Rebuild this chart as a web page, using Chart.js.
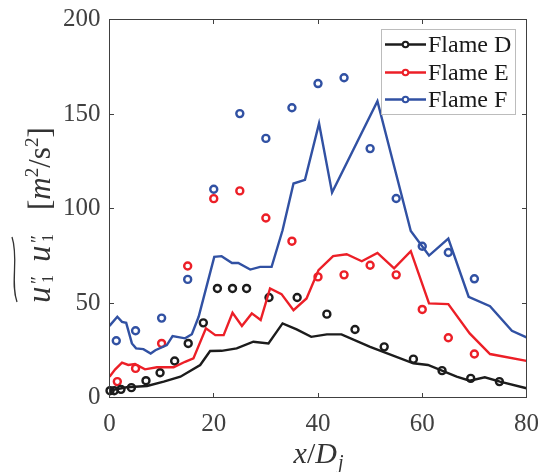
<!DOCTYPE html>
<html>
<head>
<meta charset="utf-8">
<title>u1u1 flames D E F</title>
<script src="https://cdn.jsdelivr.net/npm/chart.js@4.4.1/dist/chart.umd.min.js"></script>
<style>
  html, body { margin: 0; padding: 0; background: #fff; }
  #wrap { width: 538px; height: 472px; }
</style>
</head>
<body>
<div id="wrap"><canvas id="chart" width="538" height="472"></canvas></div>
<script>
// --- data ---
const xTicks = [0, 20, 40, 60, 80];
const yTicks = [0, 50, 100, 150, 200];
const seriesNames = ['Flame D', 'Flame E', 'Flame F'];
const seriesColors = ['#1c1c1c', '#ec1f27', '#3151a3'];

// simulation (lines)
const lineDx = [0, 3.3, 7.2, 10.4, 13.6, 17.4, 19.3, 21.5, 24.4, 27.6, 30.5, 33.2, 35.9, 38.7, 41.7, 44.5, 50, 58.3, 61.1, 66.6, 69.1, 72, 74.9, 80];
const lineDy = [3.6, 5.4, 6.1, 8.4, 11, 17.2, 24.6, 24.7, 26, 29.5, 28.6, 39.2, 36, 32.1, 33.4, 33.4, 26.8, 18.1, 17.2, 11, 8.9, 10.7, 8.4, 4.9];
const lineEx = [0, 1.1, 2.4, 3.6, 4.9, 6.8, 9.1, 12.3, 14.5, 16.1, 18.5, 20.3, 21.9, 23.6, 25.4, 27.3, 29, 30.8, 33, 35.3, 37.8, 40.1, 42.9, 45.5, 48.4, 51.4, 54.6, 57.8, 61.3, 65, 69.1, 73, 80];
const lineEy = [11, 14.9, 18.4, 17.2, 17.7, 14.9, 16, 16, 18.9, 20.7, 36.6, 33, 33, 44.8, 37.8, 44.5, 41, 57.7, 54.7, 46.2, 52.4, 67.4, 74.8, 75.8, 72.1, 76.5, 68.3, 77.4, 49.8, 49.4, 33.9, 23, 19.4];
const lineFx = [0, 1.5, 2.4, 3.2, 4.3, 5.1, 6.5, 7.9, 8.8, 11, 12.1, 14.5, 15.8, 17.1, 20.1, 21.5, 23.5, 24.7, 27, 28.9, 31.1, 33.2, 35.3, 37.5, 40.2, 42.7, 51.4, 57.8, 61.3, 65, 68.9, 73, 77.2, 80];
const lineFy = [37.9, 42.7, 40, 39.5, 28.6, 26, 25.6, 23.3, 25, 27.7, 32.5, 31.3, 33.5, 42.7, 74.4, 74.8, 71.2, 71.2, 67.7, 69.1, 69.1, 88.5, 113.2, 115.2, 145, 108.4, 156.8, 88.1, 75.1, 84.1, 53.3, 48.3, 35.3, 31.8];

// measurements (circles)
const expDx = [0.1, 0.9, 2.2, 4.2, 7, 9.7, 12.5, 15.1, 18, 20.7, 23.6, 26.3, 30.6, 36, 41.7, 47.1, 52.7, 58.3, 63.8, 69.3, 74.8];
const expDy = [3.6, 3.6, 4.3, 5.2, 8.9, 13.1, 19.3, 28.6, 39.5, 57.7, 57.7, 57.7, 52.9, 52.9, 44.1, 36, 26.8, 20.3, 14.2, 10.1, 8.4];
const expEx = [1.5, 5, 10, 15, 20, 25, 30, 35, 40, 45, 50, 55, 60, 65, 70];
const expEy = [8.4, 15.4, 28.6, 69.6, 105.2, 109.3, 95, 82.7, 63.8, 64.9, 70, 64.9, 46.6, 31.6, 23];
const expFx = [1.3, 5, 10, 15, 20, 25, 30, 35, 40, 45, 50, 55, 60, 65, 70];
const expFy = [30, 35.3, 42, 62.5, 110.2, 150.2, 137.1, 153.3, 166.1, 169.2, 131.7, 105.3, 80, 76.7, 62.8];

const lines = [[lineDx, lineDy], [lineEx, lineEy], [lineFx, lineFy]];
const points = [[expDx, expDy], [expEx, expEy], [expFx, expFy]];

const toXY = (xs, ys) => xs.map((v, i) => ({ x: v, y: ys[i] }));

const datasets = [];
lines.forEach(([xs, ys], i) => {
    datasets.push({
        label: seriesNames[i],
        data: toXY(xs, ys),
        showLine: true,
        borderColor: seriesColors[i],
        borderWidth: 2.4,
        pointRadius: 0,
        tension: 0,
    });
});
points.forEach(([xs, ys], i) => {
    datasets.push({
        label: seriesNames[i] + ' exp',
        data: toXY(xs, ys),
        showLine: false,
        borderColor: seriesColors[i],
        backgroundColor: 'rgba(0,0,0,0)',
        borderWidth: 2.4,
        pointRadius: 3.5,
        pointStyle: 'circle',
        clip: false,
    });
});

const SERIF = '"Liberation Serif", "DejaVu Serif", serif';
const AXIS_COLOR = '#404040';

// --- axes box, inward ticks, titles and legend ---
const decorations = {
    id: 'decorations',
    afterDraw(chart) {
        const { ctx, chartArea: a, scales: { x, y } } = chart;
        ctx.save();

        // box + ticks
        ctx.strokeStyle = AXIS_COLOR;
        ctx.lineWidth = 1;
        ctx.strokeRect(a.left, a.top, a.right - a.left, a.bottom - a.top);
        ctx.beginPath();
        xTicks.forEach(v => {
            const px = Math.round(x.getPixelForValue(v) - 0.5) + 0.5;
            ctx.moveTo(px, a.bottom); ctx.lineTo(px, a.bottom - 4.5);
            ctx.moveTo(px, a.top); ctx.lineTo(px, a.top + 4.5);
        });
        yTicks.forEach(v => {
            const py = Math.round(y.getPixelForValue(v) - 0.5) + 0.5;
            ctx.moveTo(a.left, py); ctx.lineTo(a.left + 4.5, py);
            ctx.moveTo(a.right, py); ctx.lineTo(a.right - 4.5, py);
        });
        ctx.stroke();

        ctx.fillStyle = '#333';
        ctx.textBaseline = 'alphabetic';
        ctx.textAlign = 'left';

        // y title: ~(u''_1 u''_1) [m^2/s^2], rotated
        ctx.save();
        ctx.translate(50, 303);
        ctx.rotate(-Math.PI / 2);
        const uFont = `italic 33px ${SERIF}`;
        const subFont = `16px ${SERIF}`;
        const primeFont = `19px ${SERIF}`;
        [0, 41].forEach(ux => {
            ctx.font = uFont;
            ctx.fillText('u', ux, 0);
            ctx.font = primeFont;
            ctx.fillText('\u2033', ux + 19, -6);
            ctx.font = subFont;
            ctx.fillText('1', ux + 20, 3);
        });
        // wide tilde
        ctx.strokeStyle = '#333';
        ctx.lineWidth = 1.3;
        ctx.beginPath();
        ctx.moveTo(1, -33);
        ctx.bezierCurveTo(20, -40, 45, -31, 66, -38);
        ctx.stroke();

        let cx = 93;
        const put = (txt, font, dy = 0) => {
            ctx.font = font;
            ctx.fillText(txt, cx, dy);
            cx += ctx.measureText(txt).width;
        };
        const ital = `italic 31px ${SERIF}`;
        const rom = `31px ${SERIF}`;
        const small = `19px ${SERIF}`;
        put('[', rom);
        put('m', ital);
        put('2', small, -12);
        put('/', rom);
        put('s', rom);
        put('2', small, -12);
        put(']', rom);
        ctx.restore();

        // x title: x/D_j
        const xi = `italic 30px ${SERIF}`;
        const parts = [['x', xi, 0], ['/', `30px ${SERIF}`, 0], ['D', xi, 0], ['j', `italic 20px ${SERIF}`, 6]];
        const widths = parts.map(([t, f]) => { ctx.font = f; return ctx.measureText(t).width; });
        let tx = 318 - widths.reduce((s, w) => s + w, 0) / 2;
        parts.forEach(([t, f, dy], i) => {
            ctx.font = f;
            ctx.fillText(t, tx, 463 + dy);
            tx += widths[i] + (i === 2 ? 1 : 0);
        });

        // legend
        const box = { left: 381.5, top: 29.5, right: 515.5, bottom: 114.5 };
        ctx.fillStyle = '#fff';
        ctx.fillRect(box.left, box.top, box.right - box.left, box.bottom - box.top);
        ctx.strokeStyle = '#bcbcbc';
        ctx.lineWidth = 1;
        ctx.strokeRect(box.left, box.top, box.right - box.left, box.bottom - box.top);
        const rowY = [44.5, 72.5, 99.5];
        seriesNames.forEach((name, i) => {
            const ly = rowY[i];
            ctx.strokeStyle = seriesColors[i];
            ctx.lineWidth = 2.4;
            ctx.beginPath();
            ctx.moveTo(385, ly); ctx.lineTo(426, ly);
            ctx.stroke();
            ctx.lineWidth = 2;
            ctx.fillStyle = '#fff';
            ctx.beginPath();
            ctx.arc(405.5, ly, 2.8, 0, Math.PI * 2);
            ctx.fill();
            ctx.stroke();
            ctx.fillStyle = '#1a1a1a';
            ctx.font = `24px ${SERIF}`;
            ctx.textBaseline = 'middle';
            ctx.fillText(name, 428, ly + 1);
        });

        ctx.restore();
    }
};

const chart = new Chart(document.getElementById('chart'), {
    type: 'scatter',
    data: { datasets },
    options: {
        responsive: false,
        animation: false,
        devicePixelRatio: 1,
        layout: { padding: { left: 0, top: 19.5, right: 11.5, bottom: 24.5 } },
        plugins: { legend: { display: false }, tooltip: { enabled: false } },
        scales: {
            x: {
                type: 'linear',
                min: 0, max: 80,
                grid: { display: false, drawTicks: false },
                border: { display: false },
                afterBuildTicks: s => { s.ticks = xTicks.map(v => ({ value: v })); },
                afterFit: s => { s.height = 50; s.paddingLeft = 0; s.paddingRight = 0; },
                ticks: { font: { family: SERIF, size: 25 }, color: AXIS_COLOR, padding: 12, maxRotation: 0 },
            },
            y: {
                type: 'linear',
                min: 0, max: 200,
                grid: { display: false, drawTicks: false },
                border: { display: false },
                afterBuildTicks: s => { s.ticks = yTicks.map(v => ({ value: v })); },
                afterFit: s => { s.width = 109.5; s.paddingTop = 0; s.paddingBottom = 0; },
                ticks: { font: { family: SERIF, size: 25 }, color: AXIS_COLOR, padding: 9 },
            },
        },
    },
    plugins: [decorations],
});
</script>
</body>
</html>
